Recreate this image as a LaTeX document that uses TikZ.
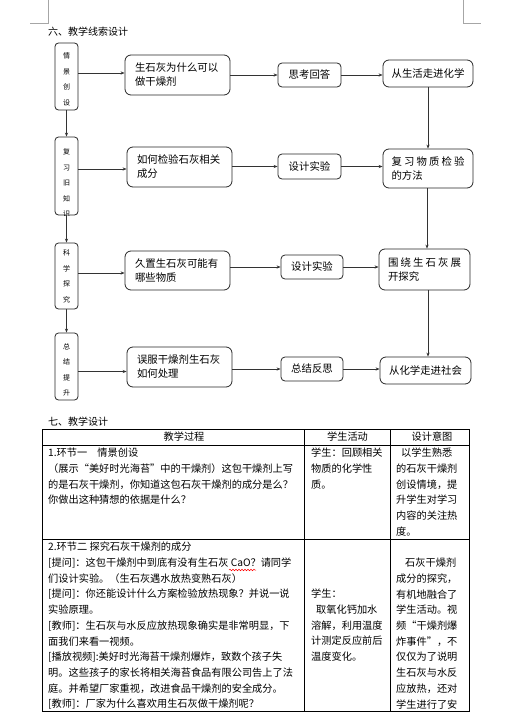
\documentclass[tikz,border=0pt]{standalone}
\usepackage{fontspec}
\setmainfont{Noto Sans CJK SC}
\usetikzlibrary{arrows.meta,calc,decorations.pathmorphing}
\newcommand\tblfont{\fontsize{10.2pt}{15.7pt}\selectfont}
\newcommand\boxfont{\fontsize{10.4pt}{14pt}\selectfont}
\newcommand\narrowfont{\fontsize{7pt}{15.5pt}\selectfont}
\begin{document}
\begin{tikzpicture}[x=1pt,y=-1pt,
  lbox/.style={draw=black!85,line width=0.8pt,rounded corners=3.5pt,minimum width=23pt,inner sep=0pt},
  abox/.style={draw=black!85,line width=0.8pt,rounded corners=6pt,inner xsep=10pt,inner ysep=0pt,text width=85pt,align=left,font=\boxfont,minimum height=40pt},
  bbox/.style={draw=black!85,line width=0.8pt,rounded corners=4pt,inner sep=0pt,font=\boxfont,minimum height=24pt},
  cbox/.style={draw=black!85,line width=0.8pt,rounded corners=6pt,inner sep=0pt,font=\boxfont,minimum width=90pt},
  arr/.style={draw=black!80,line width=0.7pt,-{Stealth[length=4pt,width=3.2pt]}},
  tline/.style={draw=black,line width=0.7pt},
  cell/.style={anchor=north west,inner sep=0pt,align=left,font=\tblfont},
  corner/.style={draw=black!35,line width=0.6pt}]
\useasboundingbox (0,0) rectangle (504,720);
% page corner marks
\draw[corner] (48,0) -- (48,23) -- (30,23);
\draw[corner] (463,0) -- (463,23) -- (481,23);
% headings
\node[anchor=west,inner sep=0pt,font=\fontsize{10pt}{12pt}\selectfont] (h1) at (48,32) {六、教学线索设计};
\node[anchor=west,inner sep=0pt,font=\fontsize{10pt}{12pt}\selectfont] (h2) at (48,422) {七、教学设计};
% left narrow boxes
\node[lbox,minimum height=67pt] (L1) at (66.5,76.5) {};
\node[lbox,minimum height=78pt] (L2) at (66.5,176) {};
\node[lbox,minimum height=66pt] (L3) at (66.5,276) {};
\node[lbox,minimum height=67pt] (L4) at (66.5,366.5) {};
\node[font=\narrowfont,align=center,inner sep=0pt] (t1) at (66.5,79.5) {情\\景\\创\\设};
\begin{scope}
\clip[rounded corners=3.5pt] (L2.south west) rectangle (L2.north east);
\node[font=\narrowfont,align=center,inner sep=0pt] (t2) at (66.5,183) {复\\习\\旧\\知\\识};
\end{scope}
\node[font=\narrowfont,align=center,inner sep=0pt] (t3) at (66.5,276.5) {科\\学\\探\\究};
\node[font=\narrowfont,align=center,inner sep=0pt] (t4) at (66.5,370) {总\\结\\提\\升};
% second column
\node[abox] (a1) at (177.5,75) {生石灰为什么可以\\做干燥剂};
\node[abox] (a2) at (179.5,167) {如何检验石灰相关\\成分};
\node[abox,minimum height=39pt] (a3) at (177.5,270.5) {久置生石灰可能有\\哪些物质};
\node[abox] (a4) at (179.5,367) {误服干燥剂生石灰\\如何处理};
% third column
\node[bbox,minimum width=63pt] (b1) at (309.5,75) {思考回答};
\node[bbox,minimum width=63pt,minimum height=25pt] (b2) at (309.5,166.5) {设计实验};
\node[bbox,minimum width=62pt] (b3) at (312,267) {设计实验};
\node[bbox,minimum width=62pt] (b4) at (312,369) {总结反思};
% fourth column
\node[cbox,minimum height=27pt] (c1) at (428,73.5) {从生活走进化学};
\node[cbox,minimum height=39pt,align=left,text width=73pt,inner xsep=8.5pt] (c2) at (428,168.5) {\makebox[73pt]{复\hfill 习\hfill 物\hfill 质\hfill 检\hfill 验}\\的方法};
\node[cbox,minimum width=91pt,minimum height=41pt,align=left,text width=73pt,inner xsep=9pt] (c3) at (424.5,269.5) {\makebox[73pt]{围\hfill 绕\hfill 生\hfill 石\hfill 灰\hfill 展}\\开探究};
\node[cbox,minimum width=91pt,minimum height=27pt] (c4) at (425.5,370.5) {从化学走进社会};
% vertical arrows left
\draw[arr] (L1.south) -- (L2.north);
\draw[arr] (L2.south) -- (L3.north);
\draw[arr] (L3.south) -- (L4.north);
% left to a
\draw[arr] ([yshift=3.5pt]L1.east) -- ([yshift=3.5pt]L1.east -| a1.west);
\draw[arr] ([yshift=7pt]L2.east) -- ([yshift=7pt]L2.east -| a2.west);
\draw[arr] ([yshift=3pt]L3.east) -- ([yshift=3pt]L3.east -| a3.west);
\draw[arr] ([yshift=-5pt]L4.east) -- ([yshift=-5pt]L4.east -| a4.west);
% a to b
\draw[arr] (b1.west -| a1.east) -- (b1.west);
\draw[arr] (b2.west -| a2.east) -- (b2.west);
\draw[arr] (b3.west -| a3.east) -- (b3.west);
\draw[arr] (b4.west -| a4.east) -- (b4.west);
% b to c
\draw[arr] (b1.east) -- (b1.east -| c1.west);
\draw[arr] (b2.east) -- (b2.east -| c2.west);
\draw[arr] (b3.east) -- (b3.east -| c3.west);
\draw[arr] (b4.east) -- (b4.east -| c4.west);
% c vertical
\draw[arr] (c1.south) -- (c1.south |- c2.north);
\draw[arr] (c2.south -| 427,0) -- (c3.north -| 427,0);
\draw[arr] (c3.south -| 428,0) -- (c4.north -| 428,0);
% table
\draw[tline] (42,429) rectangle (469,711);
\draw[tline] (42,445) -- (469,445);
\draw[tline] (42,539) -- (469,539);
\draw[tline] (304,429) -- (304,711);
\draw[tline] (390,429) -- (390,711);
\node[inner sep=0pt,font=\tblfont] (hd1) at (184,437) {教学过程};
\node[inner sep=0pt,font=\tblfont] (hd2) at (347.5,437) {学生活动};
\node[inner sep=0pt,font=\tblfont] (hd3) at (432,437) {设计意图};
\node[cell] (r11) at (48,448) {1.环节一\quad 情景创设\\（展示“美好时光海苔”中的干燥剂）这包干燥剂上写\\的是石灰干燥剂，你知道这包石灰干燥剂的成分是么？\\你做出这种猜想的依据是什么？};
\node[cell] (r12) at (311,448) {学生：回顾相关\\物质的化学性\\质。};
\node[cell] (r13) at (396,448) {\hspace{5pt}以学生熟悉\\的石灰干燥剂\\创设情境，提\\升学生对学习\\内容的关注热\\度。};
\node[cell] (r21) at (48,542) {2.环节二 探究石灰干燥剂的成分\\{[}提问{]}：这包干燥剂中到底有没有生石灰 CaO？请同学\\们设计实验。（生石灰遇水放热变熟石灰）\\{[}提问{]}：你还能设计什么方案检验放热现象？并说一说\\实验原理。\\{[}教师{]}：生石灰与水反应放热现象确实是非常明显，下\\面我们来看一视频。\\{[}播放视频{]}:美好时光海苔干燥剂爆炸，致数个孩子失\\明。这些孩子的家长将相关海苔食品有限公司告上了法\\庭。并希望厂家重视，改进食品干燥剂的安全成分。\\{[}教师{]}：厂家为什么喜欢用生石灰做干燥剂呢？};
\node[cell] (r22) at (311,589) {学生：\\\hspace{5pt}取氧化钙加水\\溶解，利用温度\\计测定反应前后\\温度变化。};
\node[cell] (r23) at (396,558) {\hspace{9pt}石灰干燥剂\\成分的探究，\\有机地融合了\\学生活动。视\\频“干燥剂爆\\炸事件”，不\\仅仅为了说明\\生石灰与水反\\应放热，还对\\学生进行了安};
% spell-check squiggle under CaO
\coordinate (sq1) at (229,570);
\coordinate (sq2) at (256,570);
\draw[red,line width=0.5pt,decorate,decoration={snake,amplitude=0.8pt,segment length=3pt}] (sq1) -- (sq2);
\end{tikzpicture}
\end{document}
